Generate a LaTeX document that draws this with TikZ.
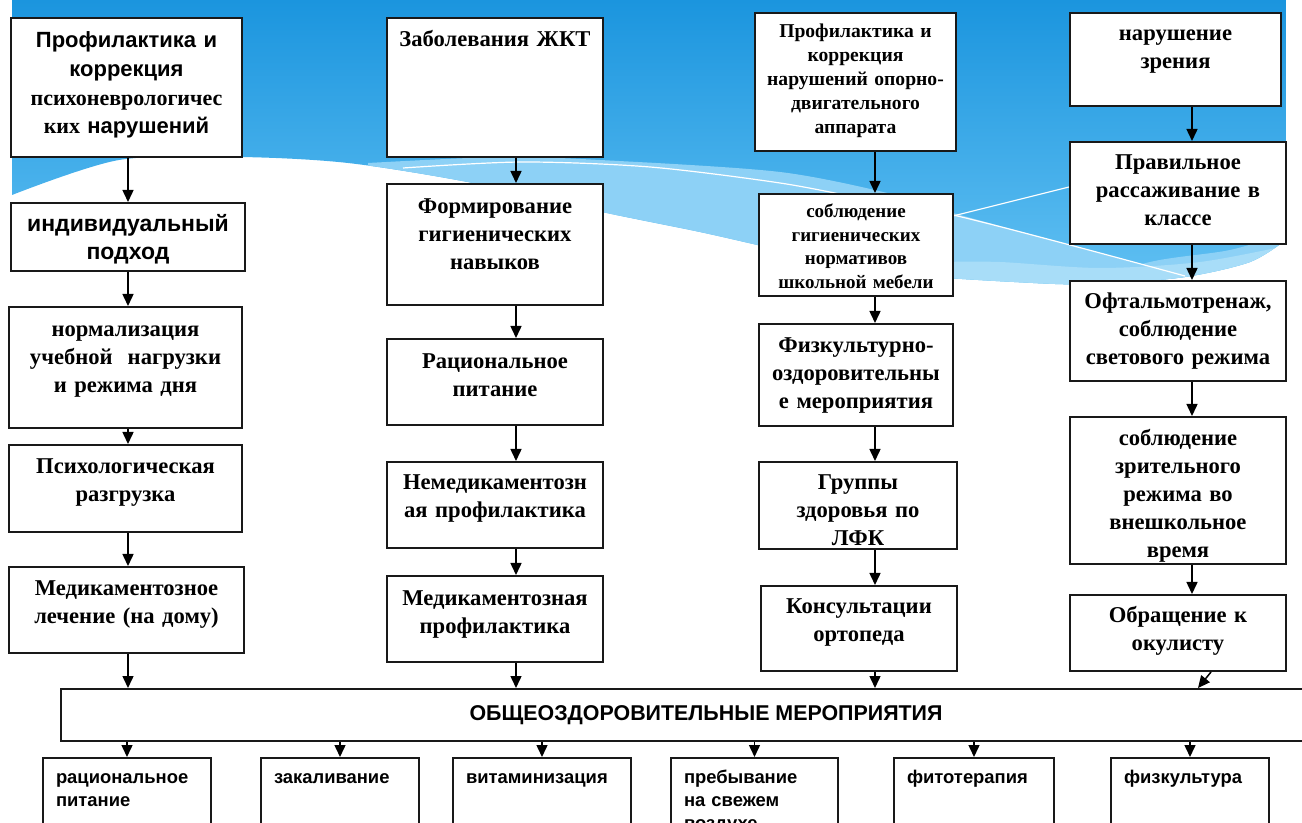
\documentclass[tikz,border=0pt]{standalone}
\usepackage{fontspec}
\setmainfont{Liberation Serif}
\newfontfamily\arl{Liberation Sans}
\usetikzlibrary{arrows.meta}
\definecolor{skytop}{HTML}{1B95DE}
\definecolor{skybot}{HTML}{62C1F3}
\definecolor{band}{HTML}{8DD1F6}
\definecolor{bandlt}{HTML}{A8DDF8}
\tikzset{
  box/.style={draw=black!90, line width=1pt, fill=white, inner sep=0pt, anchor=north west, align=center},
  tms/.style={font=\bfseries\fontsize{11.3}{14}\selectfont},
  sml/.style={font=\bfseries\fontsize{9.8}{12}\selectfont},
  ars/.style={font=\arl\bfseries\fontsize{11.5}{14}\selectfont},
  low/.style={draw=black!90, line width=1pt, fill=white, anchor=north west, align=left,
    inner xsep=6.5pt, inner ysep=0pt, text height=12.5pt, text depth=31.5pt,
    font=\arl\bfseries\fontsize{9.2}{11.5}\selectfont},
  arr/.style={line width=0.75pt, -{Triangle[length=6pt,width=5.5pt]}}
}
\begin{document}
\begin{tikzpicture}[x=0.5pt, y=-0.5pt]
\useasboundingbox (0,0) rectangle (1302,823);
% background waves
\begin{scope}
\clip (12,0) -- (1286,0) -- (1286,240) -- plot[smooth] coordinates {(1286,240) (1250,262) (1185,277) (1100,284) (1033,283) (891,273) (780,250) (700,232) (602,212) (473,183) (348,163) (239,157) (119,160) (12,195)} -- cycle;
\shade[top color=skytop, bottom color=skybot] (12,0) rectangle (1286,290);
\fill[band] plot[smooth] coordinates {(368,163) (500,157) (600,160) (780,172) (900,196) (953,213) (1070,245) (1185,277)} -- (1185,300) -- (368,300) -- cycle;
\fill[band] plot[smooth] coordinates {(1060,290) (1150,262) (1230,250) (1290,232)} -- (1290,300) -- cycle;
\fill[bandlt] plot[smooth] coordinates {(940,262) (1000,262) (1100,268) (1200,262) (1290,245)} -- (1290,300) -- (940,300) -- cycle;
\draw[white, line width=0.6pt] plot[smooth] coordinates {(403,168) (522,162) (650,167) (780,183) (870,200) (953,215) (1070,245) (1185,276)};
\draw[white, line width=0.6pt] (953,216) -- (1069,187);
\end{scope}
% arrow columns
\coordinate (colA) at (128,0);
\coordinate (colB) at (516,0);
\coordinate (colC) at (875,0);
\coordinate (colD) at (1192,0);
% column 1
\node[box, font=\bfseries\fontsize{11}{14.3}\selectfont, text width=115.5pt, text height=15pt, text depth=54.5pt] (A1) at (10,17) {{\arl Профилактика и}\\{\arl коррекция}\\психоневрологичес\\ких {\arl нарушений}};
\node[box, ars, text width=117pt, text height=14.5pt, text depth=19.5pt] (A2) at (10,202) {индивидуальный\\подход};
\node[box, tms, text width=116.5pt, text height=15pt, text depth=45.5pt] (A3) at (8,306) {нормализация\\учебной~ нагрузки\\и режима дня};
\node[box, tms, text width=116.5pt, text height=14.5pt, text depth=29pt] (A4) at (8,444) {Психологическая\\разгрузка};
\node[box, tms, text width=117.5pt, text height=14.5pt, text depth=28.5pt] (A5) at (8,566) {Медикаментозное\\лечение (на дому)};
% column 2
\node[box, tms, text width=108pt, text height=14.5pt, text depth=55pt] (B1) at (386,17) {Заболевания ЖКТ};
\node[box, tms, text width=108pt, text height=15pt, text depth=45.5pt] (B2) at (386,183) {Формирование\\гигиенических\\навыков};
\node[box, tms, text width=108pt, text height=15pt, text depth=28pt] (B3) at (386,338) {Рациональное\\питание};
\node[box, tms, text width=108pt, text height=14pt, text depth=29pt] (B4) at (386,461) {Немедикаментозн\\ая профилактика};
\node[box, tms, text width=108pt, text height=14.5pt, text depth=28.5pt] (B5) at (386,575) {Медикаментозная\\профилактика};
% column 3
\node[box, sml, text width=100.5pt, text height=12.5pt, text depth=56.5pt] (C1) at (754,12) {Профилактика и\\коррекция\\нарушений опорно-\\двигательного\\аппарата};
\node[box, font=\bfseries\fontsize{9.5}{11.7}\selectfont, text width=97pt, text height=12pt, text depth=39pt] (C2) at (758,193) {соблюдение\\гигиенических\\нормативов\\школьной мебели};
\node[box, tms, text width=97pt, text height=14.5pt, text depth=36.5pt] (C3) at (758,323) {Физкультурно-\\оздоровительны\\е мероприятия};
\node[box, tms, text width=99pt, text height=14pt, text depth=29.5pt] (C4) at (758,461) {Группы\\здоровья по\\ЛФК};
\node[box, tms, text width=98pt, text height=13.5pt, text depth=29pt] (C5) at (760,585) {Консультации\\ортопеда};
% column 4
\node[box, tms, text width=105.5pt, text height=14pt, text depth=32.5pt] (D1) at (1069,12) {нарушение\\зрения};
\node[box, tms, text width=108pt, text height=14pt, text depth=37pt] (D2) at (1069,141) {Правильное\\рассаживание в\\классе};
\node[box, tms, text width=108pt, text height=14pt, text depth=36pt] (D3) at (1069,280) {Офтальмотренаж,\\соблюдение\\светового режима};
\node[box, tms, text width=108pt, text height=14.5pt, text depth=59pt] (D4) at (1069,416) {соблюдение\\зрительного\\режима во\\внешкольное\\время};
\node[box, tms, text width=108pt, text height=14pt, text depth=24pt] (D5) at (1069,594) {Обращение к\\окулисту};
% general box
\node[draw=black!90, line width=1pt, fill=white, anchor=north west, minimum width=645pt, minimum height=26pt, inner sep=0pt, font=\arl\bfseries\fontsize{10.7}{13}\selectfont] (G) at (60,688) {ОБЩЕОЗДОРОВИТЕЛЬНЫЕ МЕРОПРИЯТИЯ};
% bottom row
\node[low, text width=71pt] (E1) at (42,757) {рациональное\\питание};
\node[low, text width=66pt] (E2) at (260,757) {закаливание};
\node[low, text width=76pt] (E3) at (452,757) {витаминизация};
\node[low, text width=70.5pt] (E4) at (670,757) {пребывание\\на свежем\\воздухе};
\node[low, text width=67pt] (E5) at (893,757) {фитотерапия};
\node[low, text width=66pt] (E6) at (1110,757) {физкультура};
% arrows
\foreach \a/\b in {A1/A2, A2/A3, A3/A4, A4/A5, A5/G}
  \draw[arr] (\a.south -| colA) -- (\b.north -| colA);
\foreach \a/\b in {B1/B2, B2/B3, B3/B4, B4/B5, B5/G}
  \draw[arr] (\a.south -| colB) -- (\b.north -| colB);
\foreach \a/\b in {C1/C2, C2/C3, C3/C4, C4/C5, C5/G}
  \draw[arr] (\a.south -| colC) -- (\b.north -| colC);
\foreach \a/\b in {D1/D2, D2/D3, D3/D4, D4/D5}
  \draw[arr] (\a.south -| colD) -- (\b.north -| colD);
\draw[arr] ([xshift=16.5pt]D5.south) -- ([xshift=10pt]D5.south |- G.north);
\foreach \e in {E1, E2, E3, E4, E5, E6}
  \draw[arr] (G.south -| \e.north) -- (\e.north);
\end{tikzpicture}
\end{document}
